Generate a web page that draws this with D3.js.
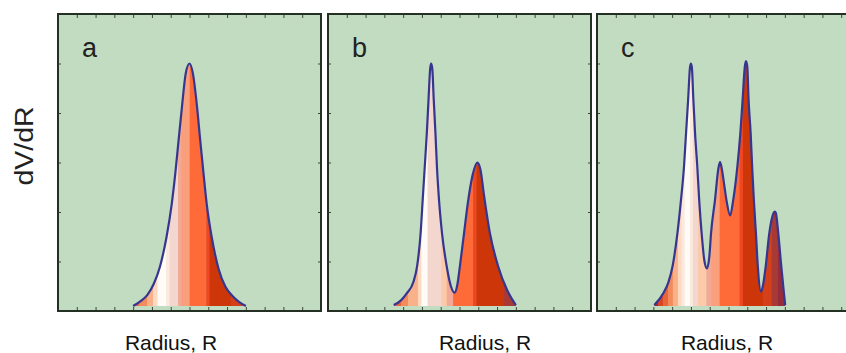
<!DOCTYPE html>
<html>
<head>
<meta charset="utf-8">
<script src="https://cdn.jsdelivr.net/npm/d3@7.9.0/dist/d3.min.js"></script>
<style>
  html, body { margin: 0; padding: 0; background: #fff; }
  svg { display: block; font-family: "Liberation Sans", Arial, sans-serif; }
</style>
</head>
<body>
<div id="vis"></div>
<script>
// ---- data (x = radius in tick units, y = dV/dR in tick units)
const xTicks = [1, 2, 3, 4, 5, 6, 7, 8, 9, 10, 11, 12, 13];
const yTicks = [1, 2, 3, 4, 5];
const panelLabels = ['a', 'b', 'c'];
const xTitle = 'Radius, R';
const yTitle = 'dV/dR';
const baseline = 0.1;

const curveA = [
  [4.0, 0.1], [4.4, 0.2], [4.75, 0.32], [5.1, 0.55], [5.43, 0.9], [5.78, 1.5],
  [6.05, 2.15], [6.25, 2.8], [6.42, 3.45], [6.6, 4.13], [6.8, 4.8], [7.0, 5.0],
  [7.18, 4.8], [7.4, 4.13], [7.57, 3.45], [7.74, 2.8], [7.92, 2.15], [8.18, 1.5],
  [8.55, 0.85], [8.9, 0.5], [9.3, 0.3], [9.65, 0.18], [10.0, 0.1]
];
const curveB = [
  [3.5, 0.12], [3.9, 0.22], [4.2, 0.36], [4.54, 0.58], [4.75, 0.92], [4.93, 1.57],
  [5.04, 2.24], [5.15, 2.91], [5.26, 3.59], [5.35, 4.26], [5.44, 4.9], [5.49, 5.0],
  [5.55, 4.9], [5.63, 4.26], [5.72, 3.59], [5.8, 2.91], [5.91, 2.24], [6.07, 1.57],
  [6.32, 0.9], [6.55, 0.49], [6.74, 0.37], [6.88, 0.52], [7.02, 0.9], [7.24, 1.57],
  [7.45, 2.2], [7.7, 2.75], [7.95, 3.0], [8.12, 2.85], [8.3, 2.35], [8.62, 1.57],
  [9.06, 0.9], [9.54, 0.42], [10.0, 0.12]
];
const curveC = [
  [3.05, 0.12], [3.53, 0.36], [3.8, 0.58], [4.03, 0.92], [4.28, 1.57], [4.47, 2.24],
  [4.63, 2.91], [4.74, 3.59], [4.85, 4.26], [4.95, 4.92], [5.0, 5.0], [5.05, 4.92],
  [5.13, 4.26], [5.22, 3.59], [5.34, 2.91], [5.44, 2.24], [5.57, 1.57], [5.71, 1.03],
  [5.85, 0.86], [5.98, 1.1], [6.07, 1.57], [6.28, 2.24], [6.47, 2.9], [6.55, 3.01],
  [6.63, 2.9], [6.76, 2.58], [6.9, 2.22], [7.09, 1.93], [7.25, 2.24], [7.47, 2.91],
  [7.63, 3.59], [7.75, 4.26], [7.87, 4.94], [7.93, 5.05], [8.0, 4.94], [8.07, 4.26],
  [8.18, 3.59], [8.26, 2.91], [8.35, 2.24], [8.46, 1.57], [8.56, 0.9], [8.73, 0.39],
  [8.85, 0.55], [8.98, 0.9], [9.17, 1.57], [9.4, 1.98], [9.46, 2.01], [9.52, 1.98],
  [9.65, 1.57], [9.81, 0.9], [9.95, 0.36], [10.02, 0.12]
];

// colour bands under each curve: [from, to, tone]
const bandsA = [
  [4.0, 4.3, 'redorange'], [4.3, 4.75, 'midorange'], [4.75, 5.06, 'lightorange'],
  [5.06, 5.3, 'peach'], [5.3, 5.76, 'white'], [5.76, 5.94, 'palepeach'],
  [5.94, 6.39, 'palepink'], [6.39, 6.56, 'pinksalmon'], [6.56, 7.01, 'salmon'],
  [7.01, 7.89, 'orange'], [7.89, 8.07, 'red'], [8.07, 9.2, 'darkred'], [9.2, 10.1, 'deepred']
];
const bandsB = [
  [3.4, 3.9, 'redorange'], [3.9, 4.26, 'midorange'], [4.26, 4.79, 'lightorange'],
  [4.79, 4.97, 'peach'], [4.97, 5.3, 'white'], [5.3, 6.03, 'palepink'],
  [6.03, 6.32, 'lightpeach'], [6.32, 6.66, 'pinksalmon'], [6.66, 7.72, 'orange'],
  [7.72, 7.9, 'red'], [7.9, 9.32, 'darkred'], [9.32, 10.1, 'rose']
];
const bandsC = [
  [3.0, 3.25, 'maroon'], [3.25, 3.51, 'red2'], [3.51, 3.78, 'redorange'],
  [3.78, 4.04, 'midorange'], [4.04, 4.31, 'lightorange'], [4.31, 4.49, 'peach'],
  [4.49, 4.67, 'palepeach'], [4.67, 4.95, 'white'], [4.95, 5.11, 'palepeach'],
  [5.11, 5.38, 'palepink'], [5.38, 5.82, 'lightpeach'], [5.82, 6.08, 'pinksalmon'],
  [6.08, 6.53, 'salmon'], [6.53, 7.59, 'orange'], [7.59, 7.77, 'red'],
  [7.77, 8.83, 'darkred'], [8.83, 9.28, 'deepred'], [9.28, 9.63, 'rose'], [9.63, 10.1, 'maroon']
];

const tones = ['maroon', 'rose', 'deepred', 'darkred', 'red', 'red2', 'orange', 'redorange',
  'midorange', 'lightorange', 'peach', 'palepeach', 'white', 'palepink', 'lightpeach',
  'pinksalmon', 'salmon'];
const toneColors = ['#972b3c', '#a83a36', '#d4401a', '#cd3608', '#ef4723', '#d94424', '#fe6a38', '#e8653c',
  '#f38c5c', '#f9b189', '#fdd9c2', '#fbe9dd', '#fffcf8', '#f3d6cd', '#fccaa9',
  '#f2aa97', '#fa9f7b'];
const tone = d3.scaleOrdinal(tones, toneColors);

const panels = [
  { label: panelLabels[0], curve: curveA, bands: bandsA, left: 58, titleX: 171 },
  { label: panelLabels[1], curve: curveB, bands: bandsB, left: 328, titleX: 485 },
  { label: panelLabels[2], curve: curveC, bands: bandsC, left: 597, titleX: 727 }
];

// ---- layout
const W = 846, H = 353;
const plotTop = 14, plotBottom = 311, pw = 263;

const svg = d3.select('#vis').append('svg')
    .attr('width', W).attr('height', H);

const defs = svg.append('defs');

const y = d3.scaleLinear().domain([0, 6]).range([plotBottom, plotTop]);

panels.forEach((p, i) => {
  const x = d3.scaleLinear().domain([0, 14]).range([p.left, p.left + pw]);
  const g = svg.append('g');

  g.append('rect')
    .attr('x', p.left).attr('y', plotTop)
    .attr('width', pw).attr('height', plotBottom - plotTop)
    .attr('fill', '#c2dcc2');

  const area = d3.area()
    .x(d => x(d[0])).y0(y(baseline)).y1(d => y(d[1]))
    .curve(d3.curveMonotoneX);
  const line = d3.line()
    .x(d => x(d[0])).y(d => y(d[1]))
    .curve(d3.curveMonotoneX);

  defs.append('clipPath').attr('id', 'clip' + i)
    .append('path').attr('d', area(p.curve));

  g.append('g').attr('clip-path', `url(#clip${i})`)
    .selectAll('rect')
    .data(p.bands)
    .join('rect')
      .attr('x', d => x(d[0]))
      .attr('width', d => x(d[1]) - x(d[0]) + 0.5)
      .attr('y', plotTop)
      .attr('height', y(baseline) - plotTop)
      .attr('fill', d => tone(d[2]));

  g.append('path')
    .attr('d', line(p.curve))
    .attr('fill', 'none')
    .attr('stroke', '#36368f')
    .attr('stroke-width', 2.2)
    .attr('stroke-linejoin', 'round');

  // inward ticks on all four sides
  const tickStyle = sel => {
    sel.select('.domain').remove();
    sel.selectAll('.tick line').attr('stroke', '#3c463c').attr('stroke-width', 1);
    sel.selectAll('.tick text').remove();
  };
  g.append('g').attr('transform', `translate(0,${plotBottom})`)
    .call(d3.axisTop(x).tickValues(xTicks).tickSize(4).tickFormat('')).call(tickStyle);
  g.append('g').attr('transform', `translate(0,${plotTop})`)
    .call(d3.axisBottom(x).tickValues(xTicks).tickSize(4).tickFormat('')).call(tickStyle);
  g.append('g').attr('transform', `translate(${p.left},0)`)
    .call(d3.axisRight(y).tickValues(yTicks).tickSize(3).tickFormat('')).call(tickStyle);
  g.append('g').attr('transform', `translate(${p.left + pw},0)`)
    .call(d3.axisLeft(y).tickValues(yTicks).tickSize(3).tickFormat('')).call(tickStyle);

  g.append('rect')
    .attr('x', p.left).attr('y', plotTop)
    .attr('width', pw).attr('height', plotBottom - plotTop)
    .attr('fill', 'none')
    .attr('stroke', '#253025')
    .attr('stroke-width', 2);

  g.append('text')
    .attr('x', p.left + 24).attr('y', 57)
    .attr('font-size', 27)
    .attr('fill', '#222')
    .text(p.label);

  g.append('text')
    .attr('x', p.titleX).attr('y', 350)
    .attr('text-anchor', 'middle')
    .attr('font-size', 21)
    .attr('fill', '#111')
    .text(xTitle);
});

svg.append('text')
  .attr('transform', 'translate(33,146) rotate(-90)')
  .attr('text-anchor', 'middle')
  .attr('font-size', 25)
  .attr('textLength', 79)
  .attr('lengthAdjust', 'spacingAndGlyphs')
  .attr('fill', '#222')
  .text(yTitle);
</script>
</body>
</html>
